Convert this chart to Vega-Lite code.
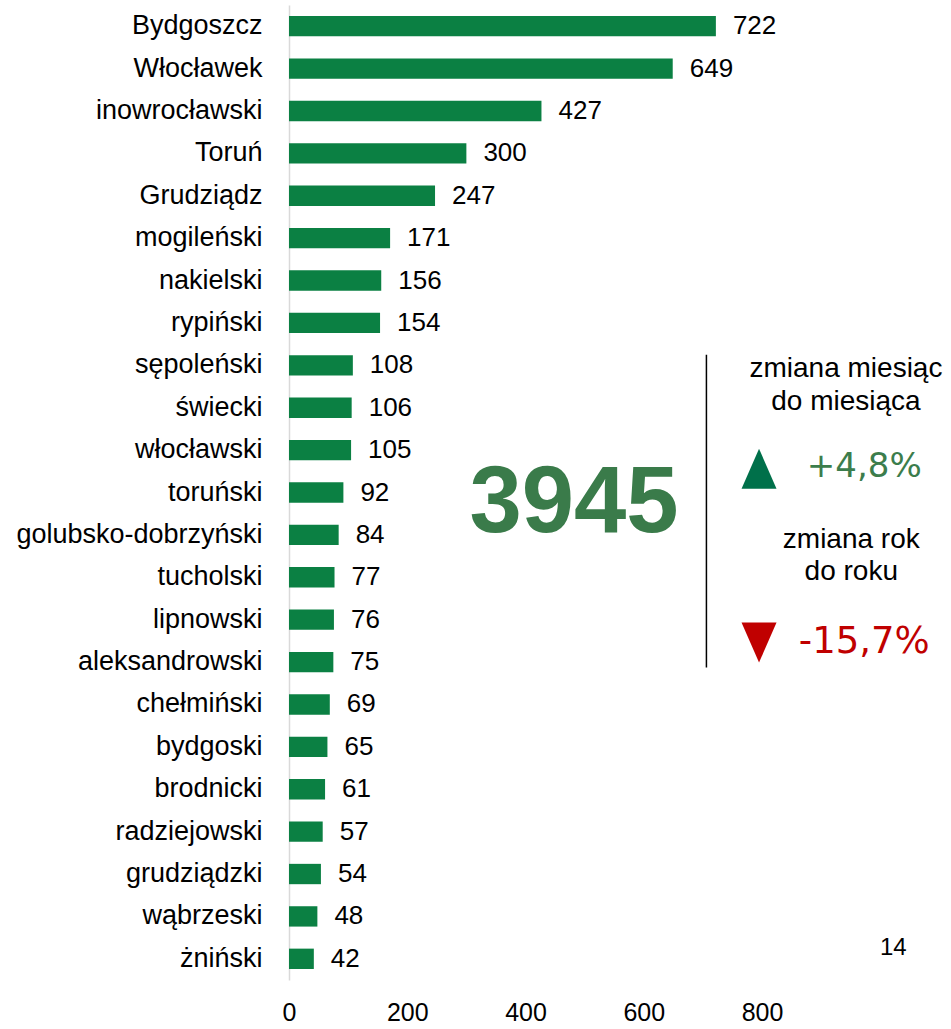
{
  "$schema": "https://vega.github.io/schema/vega-lite/v6.json",
  "width": 473,
  "height": 975,
  "autosize": {"type": "none"},
  "padding": {"left": 289, "top": 5, "right": 189, "bottom": 49},
  "background": "white",
  "config": {"view": {"stroke": null}, "font": "Liberation Sans"},
  "datasets": {
    "counties": [
      {"county": "Bydgoszcz", "count": 722},
      {"county": "Włocławek", "count": 649},
      {"county": "inowrocławski", "count": 427},
      {"county": "Toruń", "count": 300},
      {"county": "Grudziądz", "count": 247},
      {"county": "mogileński", "count": 171},
      {"county": "nakielski", "count": 156},
      {"county": "rypiński", "count": 154},
      {"county": "sępoleński", "count": 108},
      {"county": "świecki", "count": 106},
      {"county": "włocławski", "count": 105},
      {"county": "toruński", "count": 92},
      {"county": "golubsko-dobrzyński", "count": 84},
      {"county": "tucholski", "count": 77},
      {"county": "lipnowski", "count": 76},
      {"county": "aleksandrowski", "count": 75},
      {"county": "chełmiński", "count": 69},
      {"county": "bydgoski", "count": 65},
      {"county": "brodnicki", "count": 61},
      {"county": "radziejowski", "count": 57},
      {"county": "grudziądzki", "count": 54},
      {"county": "wąbrzeski", "count": 48},
      {"county": "żniński", "count": 42}
    ],
    "notes": [
      {"text": "3945", "u": 482, "r": 12.43, "kind": "total"},
      {"text": "zmiana miesiąc", "u": 942, "r": 8.77, "kind": "caption"},
      {"text": "do miesiąca", "u": 942, "r": 9.55, "kind": "caption"},
      {"text": "zmiana rok", "u": 951, "r": 12.8, "kind": "caption"},
      {"text": "do roku", "u": 951, "r": 13.56, "kind": "caption"},
      {"text": "+4,8%", "u": 973, "r": 11.13, "kind": "up"},
      {"text": "-15,7%", "u": 973, "r": 15.28, "kind": "down"},
      {"text": "14", "u": 1022, "r": 22.4, "kind": "page"}
    ],
    "arrows": [
      {"u": 795, "r": 10.94, "dir": "up"},
      {"u": 795, "r": 15.04, "dir": "down"}
    ],
    "divider": [
      {"u": 706, "r1": 8.25, "r2": 15.63}
    ]
  },
  "layer": [
    {
      "data": {"name": "counties"},
      "encoding": {
        "y": {
          "field": "county",
          "type": "nominal",
          "sort": null,
          "scale": {"paddingInner": 0.52, "paddingOuter": 0.26},
          "axis": {
            "title": null,
            "ticks": false,
            "domain": true,
            "domainColor": "#d9d9d9",
            "domainWidth": 1.5,
            "labelFontSize": 27,
            "labelColor": "#000000",
            "labelPadding": 27,
            "labelLimit": 500
          }
        },
        "x": {
          "field": "count",
          "type": "quantitative",
          "scale": {"domain": [0, 800], "nice": false},
          "axis": {
            "title": null,
            "values": [0, 200, 400, 600, 800],
            "domain": false,
            "ticks": false,
            "grid": false,
            "labelFlush": false,
            "labelFontSize": 25,
            "labelColor": "#000000",
            "labelPadding": 20
          }
        }
      },
      "layer": [
        {"mark": {"type": "bar", "color": "#0b8043"}},
        {
          "mark": {"type": "text", "align": "left", "baseline": "middle", "dx": 17, "fontSize": 26, "color": "#000000"},
          "encoding": {"text": {"field": "count", "type": "quantitative"}}
        }
      ]
    },
    {
      "layer": [
        {
          "data": {"name": "divider"},
          "mark": {"type": "rule", "color": "#000000", "strokeWidth": 1.5},
          "encoding": {
            "x": {"field": "u", "type": "quantitative", "scale": {"domain": [0, 800], "nice": false}, "axis": null},
            "y": {"field": "r1", "type": "quantitative", "scale": {"domain": [0, 23], "reverse": true, "nice": false}, "axis": null},
            "y2": {"field": "r2"}
          }
        },
        {
          "data": {"name": "arrows"},
          "transform": [{"filter": "datum.dir === 'up'"}],
          "mark": {"type": "point", "shape": "M0,-1L0.875,1L-0.875,1Z", "size": 1600, "filled": true, "opacity": 1, "color": "#00704a", "strokeWidth": 0},
          "encoding": {
            "x": {"field": "u", "type": "quantitative", "scale": {"domain": [0, 800], "nice": false}, "axis": null},
            "y": {"field": "r", "type": "quantitative", "scale": {"domain": [0, 23], "reverse": true, "nice": false}, "axis": null}
          }
        },
        {
          "data": {"name": "arrows"},
          "transform": [{"filter": "datum.dir === 'down'"}],
          "mark": {"type": "point", "shape": "M0,1L0.875,-1L-0.875,-1Z", "size": 1600, "filled": true, "opacity": 1, "color": "#c00000", "strokeWidth": 0},
          "encoding": {
            "x": {"field": "u", "type": "quantitative", "scale": {"domain": [0, 800], "nice": false}, "axis": null},
            "y": {"field": "r", "type": "quantitative", "scale": {"domain": [0, 23], "reverse": true, "nice": false}, "axis": null}
          }
        },
        {
          "data": {"name": "notes"},
          "transform": [{"filter": "datum.kind === 'total'"}],
          "mark": {"type": "text", "align": "center", "baseline": "alphabetic", "fontSize": 94, "fontWeight": "bold", "color": "#3a7b4a"},
          "encoding": {
            "x": {"field": "u", "type": "quantitative", "scale": {"domain": [0, 800], "nice": false}, "axis": null},
            "y": {"field": "r", "type": "quantitative", "scale": {"domain": [0, 23], "reverse": true, "nice": false}, "axis": null},
            "text": {"field": "text", "type": "nominal"}
          }
        },
        {
          "data": {"name": "notes"},
          "transform": [{"filter": "datum.kind === 'caption'"}],
          "mark": {"type": "text", "align": "center", "baseline": "alphabetic", "fontSize": 28, "color": "#000000"},
          "encoding": {
            "x": {"field": "u", "type": "quantitative", "scale": {"domain": [0, 800], "nice": false}, "axis": null},
            "y": {"field": "r", "type": "quantitative", "scale": {"domain": [0, 23], "reverse": true, "nice": false}, "axis": null},
            "text": {"field": "text", "type": "nominal"}
          }
        },
        {
          "data": {"name": "notes"},
          "transform": [{"filter": "datum.kind === 'up'"}],
          "mark": {"type": "text", "align": "center", "baseline": "alphabetic", "fontSize": 34, "font": "DejaVu Sans", "color": "#3c7d4c"},
          "encoding": {
            "x": {"field": "u", "type": "quantitative", "scale": {"domain": [0, 800], "nice": false}, "axis": null},
            "y": {"field": "r", "type": "quantitative", "scale": {"domain": [0, 23], "reverse": true, "nice": false}, "axis": null},
            "text": {"field": "text", "type": "nominal"}
          }
        },
        {
          "data": {"name": "notes"},
          "transform": [{"filter": "datum.kind === 'down'"}],
          "mark": {"type": "text", "align": "center", "baseline": "alphabetic", "fontSize": 37, "font": "DejaVu Sans", "color": "#c00000"},
          "encoding": {
            "x": {"field": "u", "type": "quantitative", "scale": {"domain": [0, 800], "nice": false}, "axis": null},
            "y": {"field": "r", "type": "quantitative", "scale": {"domain": [0, 23], "reverse": true, "nice": false}, "axis": null},
            "text": {"field": "text", "type": "nominal"}
          }
        },
        {
          "data": {"name": "notes"},
          "transform": [{"filter": "datum.kind === 'page'"}],
          "mark": {"type": "text", "align": "center", "baseline": "alphabetic", "fontSize": 24, "color": "#000000"},
          "encoding": {
            "x": {"field": "u", "type": "quantitative", "scale": {"domain": [0, 800], "nice": false}, "axis": null},
            "y": {"field": "r", "type": "quantitative", "scale": {"domain": [0, 23], "reverse": true, "nice": false}, "axis": null},
            "text": {"field": "text", "type": "nominal"}
          }
        }
      ]
    }
  ],
  "resolve": {"scale": {"x": "independent", "y": "independent"}}
}
